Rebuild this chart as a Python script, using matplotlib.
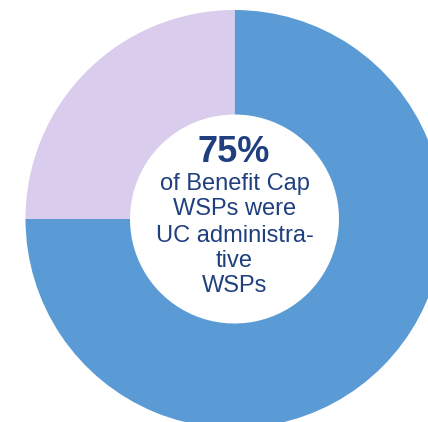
import matplotlib
matplotlib.use("Agg")
import matplotlib.pyplot as plt

# Data
labels = ["UC administrative WSPs", "Other WSPs"]
values = [75, 25]
colors = ["#5B9BD5", "#D9CCEC"]
headline = "75%"
caption_lines = ["of Benefit Cap", "WSPs were", "UC administra-", "tive", "WSPs"]

W, H = 428, 422
fig = plt.figure(figsize=(W / 100, H / 100), dpi=100)
ax = fig.add_axes([0, 0, 1, 1])

cx, cy_top, R = 234.5, 219.0, 209.0
cy = H - cy_top

ax.pie(values, colors=colors, startangle=90, counterclock=False,
       radius=1.0, wedgeprops=dict(width=0.5, linewidth=0),
       center=(0, 0))
ax.set_xlim(-cx / R, (W - cx) / R)
ax.set_ylim(-cy / R, (H - cy) / R)
ax.set_aspect("equal")
ax.axis("off")

def ypx(y_from_top):
    return (H - y_from_top - cy) / R

txt_color = "#1F3F7F"
font = "Liberation Sans"
ax.text(-0.005, ypx(162), headline, ha="center", va="baseline", fontsize=26,
        fontweight="bold", color=txt_color, family=font)
baselines = [190, 215, 242, 267, 292]
for line, b in zip(caption_lines, baselines):
    ax.text(0, ypx(b), line, ha="center", va="baseline", fontsize=17,
            color=txt_color, family=font)

fig.savefig("out.png", dpi=100)
